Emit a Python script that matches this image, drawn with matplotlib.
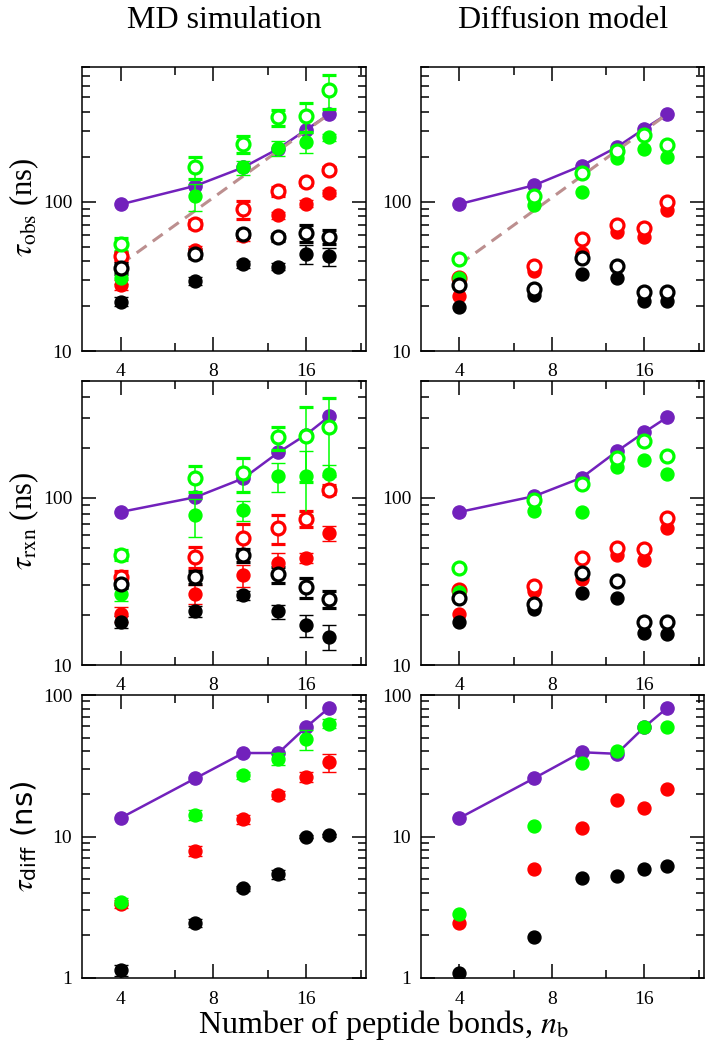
import numpy as np
import matplotlib
matplotlib.use("Agg")
import matplotlib.pyplot as plt
from matplotlib.ticker import LogLocator, NullFormatter

plt.rcParams['font.family'] = 'serif'
plt.rcParams['font.serif'] = ['Liberation Serif', 'DejaVu Serif']
plt.rcParams['mathtext.fontset'] = 'stix'

# ------------------------------------------------------------------
# DATA
# ------------------------------------------------------------------
nb = [4, 7, 10, 13, 16, 19]

# power-law guide (dashed), top row
fit_x = [4, 19]
fit_obs = [38, 387]

# tau_obs, MD simulation
obs_md_purple = [96, 128, 170, 227, 304, 387]
obs_md_green_open = [52, 170, 244, 368, 378, 565]
obs_md_green_open_err = [5, 28, 33, 46, 83, 145]
obs_md_green_fill = [31, 109, 170, 229, 251, 270]
obs_md_green_fill_err = [3, 22, 18, 27, 39, 15]
obs_md_red_open = [43, 71, 89, 118, 135, 164]
obs_md_red_open_err = [3, 4, 12, 8, 6, 6]
obs_md_red_fill = [27.7, 47.6, 59, 81, 97, 114]
obs_md_red_fill_err = [2, 3, 4, 4, 5, 5]
obs_md_black_open = [36, 45, 61, 58, 62, 58.5]
obs_md_black_open_err = [3, 3, 3, 3, 8, 6]
obs_md_black_fill = [21.4, 29.5, 38.2, 36.8, 44.6, 43.0]
obs_md_black_fill_err = [1.5, 2, 2, 2, 6.5, 6]

# tau_obs, diffusion model
obs_dm_purple = [96.5, 129, 174.5, 232, 309, 387]
obs_dm_green_open = [41.4, 108.6, 156, 218, 282, 239]
obs_dm_green_fill = [31, 95.5, 117, 196, 227, 201]
obs_dm_red_open = [31, 37.4, 56, 69.4, 66.5, 99]
obs_dm_red_fill = [23.2, 34.1, 45.2, 63.2, 57.7, 88.4]
obs_dm_black_open = [27.7, 25.9, 42.3, 37.4, 24.8, 24.8]
obs_dm_black_fill = [19.6, 23.8, 32.9, 31, 21.7, 21.7]

# tau_rxn, MD simulation
rxn_md_purple = [82.3, 100.9, 130.8, 187, 239, 307]
rxn_md_green_open = [45.5, 132, 140, 230, 236, 265]
rxn_md_green_open_err = [3, 24, 32, 36, 112, 129]
rxn_md_green_fill = [26.5, 78.6, 84.2, 135, 135, 138]
rxn_md_green_fill_err = [2.5, 20, 12, 26, 56, 20]
rxn_md_red_open = [33.7, 44.5, 57.3, 65.9, 75, 112]
rxn_md_red_open_err = [3, 6.5, 12, 13, 8, 7]
rxn_md_red_fill = [20.2, 26.7, 34.4, 40.5, 43.5, 61.5]
rxn_md_red_fill_err = [2, 3.5, 5, 6, 3, 6]
rxn_md_black_open = [30.7, 33.7, 45.5, 34.8, 29.3, 24.9]
rxn_md_black_open_err = [2, 3, 4, 4, 4, 3]
rxn_md_black_fill = [18.2, 20.9, 26.1, 20.9, 17.3, 14.8]
rxn_md_black_fill_err = [1.5, 1.5, 1.5, 2, 2.5, 2.5]

# tau_rxn, diffusion model
rxn_dm_purple = [82.3, 102.3, 132, 189.5, 247, 304]
rxn_dm_green_open = [37.8, 97.7, 121.5, 173, 218, 178.5]
rxn_dm_green_fill = [27.3, 83, 82.3, 153, 168, 139.6]
rxn_dm_red_open = [28, 29.7, 43.5, 50.4, 49.4, 75.7]
rxn_dm_red_fill = [20.2, 27.6, 32.6, 45.5, 42.5, 65.9]
rxn_dm_black_open = [25.1, 23.2, 35.7, 31.7, 18.2, 18.2]
rxn_dm_black_fill = [18.2, 21.5, 27, 25.1, 15.5, 15.3]

# tau_diff, MD simulation
diff_md_purple = [13.5, 25.8, 38.9, 38.9, 59.4, 81.3]
diff_md_green = [3.47, 14.3, 27.1, 35.3, 49, 62.8]
diff_md_green_err = [0.2, 1.2, 1.5, 3.5, 8, 4.5]
diff_md_red = [3.34, 7.94, 13.3, 19.6, 26.4, 33.4]
diff_md_red_err = [0.2, 0.6, 1, 1.3, 2, 5]
diff_md_black = [1.13, 2.45, 4.3, 5.4, 10, 10.2]
diff_md_black_err = [0.1, 0.15, 0.2, 0.4, 0.3, 0.3]

# tau_diff, diffusion model
diff_dm_purple = [13.5, 25.8, 39.4, 38.4, 59.4, 81.3]
diff_dm_green = [2.83, 11.9, 33, 40, 59.4, 59.4]
diff_dm_red = [2.45, 5.94, 11.4, 18.1, 15.8, 21.5]
diff_dm_black = [1.08, 1.96, 5.12, 5.27, 5.94, 6.17]

# ------------------------------------------------------------------
# STYLE
# ------------------------------------------------------------------
BLACK = 'black'
RED = '#ff0000'
GREEN = '#00ff00'
PURPLE = '#7221bc'
FIT = '#bc8f8f'

W, H = 705, 1050
COL_X = [82, 421]
COL_W = [284, 283]
ROW_TOP = [67, 381, 695]
ROW_H = [284, 284, 283]
YLIMS = [(10, 800), (10, 500), (1, 100)]
YTICKS = [[10, 100], [10, 100], [1, 10, 100]]


def points(ax, y, color, filled, err=None, z=3):
    face = color if filled else 'white'
    kw = dict(color=color, marker='o', linestyle='none', ms=9.3,
              mfc=face, mec=color, mew=1.0 if filled else 2.3, zorder=z)
    if err is None:
        ax.plot(nb, y, **kw)
    else:
        ax.errorbar(nb, y, yerr=err, capsize=4.8, elinewidth=1.1,
                    capthick=1.1, ecolor=color, **kw)


def purple_line(ax, y):
    ax.plot(nb, y, '-o', color=PURPLE, lw=1.8, ms=9.5, mec=PURPLE, zorder=2)


def setup(ax, row):
    ax.set_xscale('log', base=2)
    ax.set_yscale('log')
    ax.set_xlim(3, 25)
    ax.set_ylim(*YLIMS[row])
    ax.set_xticks([4, 8, 16], ['4', '8', '16'])
    ax.set_xticks([6, 12, 24], minor=True)
    ax.xaxis.set_minor_formatter(NullFormatter())
    ax.set_yticks(YTICKS[row], [str(t) for t in YTICKS[row]])
    ax.yaxis.set_minor_locator(LogLocator(base=10, subs=np.arange(2, 10)))
    ax.yaxis.set_minor_formatter(NullFormatter())
    ax.tick_params(which='both', direction='in', top=True, right=True,
                   width=1.1, labelsize=14)
    ax.tick_params(which='major', length=10)
    ax.tick_params(which='minor', length=6)
    ax.tick_params(axis='x', pad=9)
    ax.tick_params(axis='y', pad=7)
    for sp in ax.spines.values():
        sp.set_linewidth(1.1)


fig = plt.figure(figsize=(W / 100, H / 100), dpi=100)
axes = [[None, None] for _ in range(3)]
for r in range(3):
    for c in range(2):
        rect = [COL_X[c] / W, 1 - (ROW_TOP[r] + ROW_H[r]) / H,
                COL_W[c] / W, ROW_H[r] / H]
        axes[r][c] = fig.add_axes(rect)
        setup(axes[r][c], r)

# --- tau_obs, MD ---
ax = axes[0][0]
purple_line(ax, obs_md_purple)
ax.plot(fit_x, fit_obs, '--', color=FIT, lw=2.2, dashes=(4, 2.5), zorder=2)
points(ax, obs_md_red_fill, RED, True, obs_md_red_fill_err)
points(ax, obs_md_red_open, RED, False, obs_md_red_open_err)
points(ax, obs_md_green_fill, GREEN, True, obs_md_green_fill_err)
points(ax, obs_md_green_open, GREEN, False, obs_md_green_open_err)
points(ax, obs_md_black_fill, BLACK, True, obs_md_black_fill_err)
points(ax, obs_md_black_open, BLACK, False, obs_md_black_open_err)

# --- tau_obs, diffusion model ---
ax = axes[0][1]
purple_line(ax, obs_dm_purple)
ax.plot(fit_x, fit_obs, '--', color=FIT, lw=2.2, dashes=(4, 2.5), zorder=2)
points(ax, obs_dm_red_fill, RED, True)
points(ax, obs_dm_red_open, RED, False)
points(ax, obs_dm_green_fill, GREEN, True)
points(ax, obs_dm_green_open, GREEN, False)
points(ax, obs_dm_black_fill, BLACK, True)
points(ax, obs_dm_black_open, BLACK, False)

# --- tau_rxn, MD ---
ax = axes[1][0]
purple_line(ax, rxn_md_purple)
points(ax, rxn_md_red_fill, RED, True, rxn_md_red_fill_err)
points(ax, rxn_md_red_open, RED, False, rxn_md_red_open_err)
points(ax, rxn_md_green_fill, GREEN, True, rxn_md_green_fill_err)
points(ax, rxn_md_green_open, GREEN, False, rxn_md_green_open_err)
points(ax, rxn_md_black_fill, BLACK, True, rxn_md_black_fill_err)
points(ax, rxn_md_black_open, BLACK, False, rxn_md_black_open_err)

# --- tau_rxn, diffusion model ---
ax = axes[1][1]
purple_line(ax, rxn_dm_purple)
points(ax, rxn_dm_red_fill, RED, True)
points(ax, rxn_dm_red_open, RED, False)
points(ax, rxn_dm_green_fill, GREEN, True)
points(ax, rxn_dm_green_open, GREEN, False)
points(ax, rxn_dm_black_fill, BLACK, True)
points(ax, rxn_dm_black_open, BLACK, False)

# --- tau_diff, MD ---
ax = axes[2][0]
purple_line(ax, diff_md_purple)
points(ax, diff_md_red, RED, True, diff_md_red_err)
points(ax, diff_md_green, GREEN, True, diff_md_green_err)
points(ax, diff_md_black, BLACK, True, diff_md_black_err)

# --- tau_diff, diffusion model ---
ax = axes[2][1]
purple_line(ax, diff_dm_purple)
points(ax, diff_dm_red, RED, True)
points(ax, diff_dm_green, GREEN, True)
points(ax, diff_dm_black, BLACK, True)

# titles, axis labels
fig.text(224 / W, 1 - 20 / H, 'MD simulation', ha='center', va='center', fontsize=23)
fig.text(563 / W, 1 - 20 / H, 'Diffusion model', ha='center', va='center', fontsize=23)
fig.text(383 / W, 1 - 1033 / H, r'Number of peptide bonds, $n_{\rm b}$',
         ha='center', va='baseline', fontsize=23)

ylab_x = 24 / W
fig.text(ylab_x, 1 - 207 / H, r'$\tau_{\rm obs}$ (ns)', rotation=90,
         ha='center', va='center', fontsize=22)
fig.text(ylab_x, 1 - 521 / H, r'$\tau_{\rm rxn}$ (ns)', rotation=90,
         ha='center', va='center', fontsize=22)
fig.text(ylab_x, 1 - 836 / H, r'$\tau_{\mathregular{diff}}$ (ns)', rotation=90,
         ha='center', va='center', fontsize=21, family='DejaVu Sans')

fig.savefig('out.png', dpi=100)
